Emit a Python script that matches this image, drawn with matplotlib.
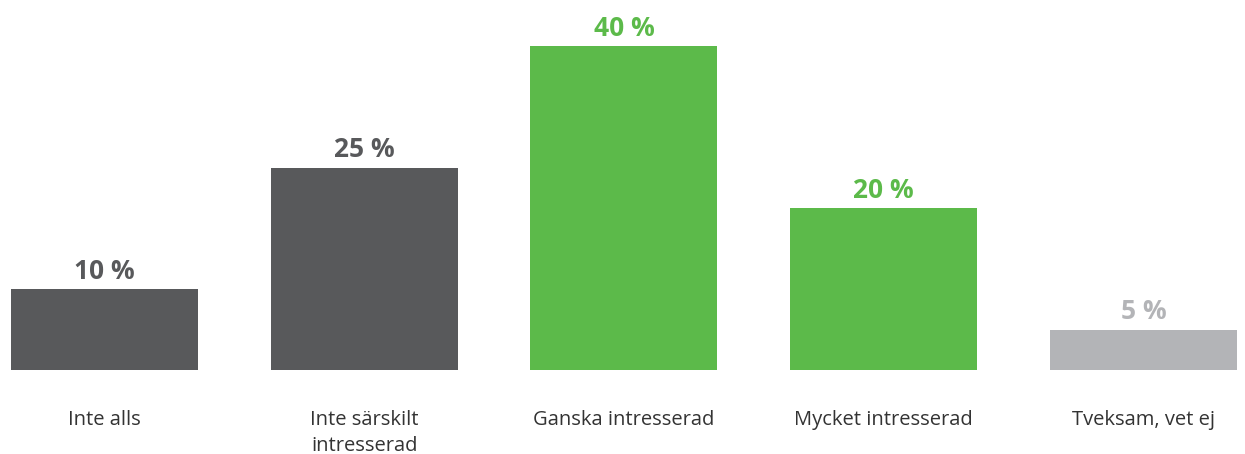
import matplotlib.pyplot as plt
import numpy as np

# data
categories = ['Inte alls', 'Inte särskilt\nintresserad', 'Ganska intresserad',
              'Mycket intresserad', 'Tveksam, vet ej']
values = [10, 25, 40, 20, 5]
colors = ['#58595b', '#58595b', '#5cba4a', '#5cba4a', '#b3b4b7']

plt.rcParams['font.family'] = ['Open Sans', 'DejaVu Sans']

fig = plt.figure(figsize=(12.45, 4.54), dpi=100)
ax = fig.add_axes([0, 0, 1, 1])

x = np.arange(len(values))
ax.bar(x, values, width=0.72, color=colors)

# value labels above bars
for xi, v, c in zip(x, values, colors):
    ax.annotate(f'{v} %', (xi, v), xytext=(0, 7.5), textcoords='offset points',
                ha='center', va='baseline', fontsize=19, fontweight='bold', color=c)

# category labels below
for xi, cat in zip(x, categories):
    ax.annotate(cat, (xi, 0), xytext=(0, -28.5), textcoords='offset points',
                ha='center', va='top', fontsize=14.5, color='#333333', linespacing=1.42)

ax.set_xlim(-0.4023, 4.391)
ax.set_ylim(-10.37, 45.68)
ax.axis('off')

fig.savefig('out.png', dpi=100)
